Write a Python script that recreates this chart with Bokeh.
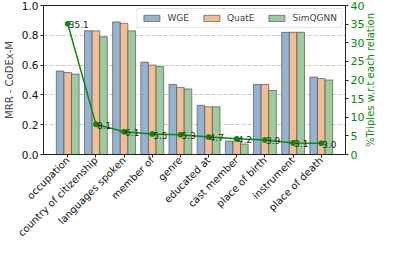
import numpy as np
from bokeh.plotting import figure
from bokeh.models import (Range1d, LinearAxis, FixedTicker, ColumnDataSource,
                          NumeralTickFormatter, Label)
from bokeh.embed import file_html
from bokeh.resources import INLINE
from bokeh.core.properties import value

relations = ["occupation", "country of citizenship", "languages spoken", "member of",
             "genre", "educated at", "cast member", "place of birth", "instrument",
             "place of death"]
wge = [0.56, 0.83, 0.89, 0.62, 0.47, 0.33, 0.09, 0.47, 0.82, 0.52]
quate = [0.55, 0.83, 0.88, 0.60, 0.45, 0.32, 0.09, 0.47, 0.82, 0.51]
simqgnn = [0.54, 0.79, 0.83, 0.59, 0.44, 0.32, 0.07, 0.43, 0.82, 0.50]
pct_triples = [35.1, 8.1, 6.1, 5.5, 5.3, 4.7, 4.2, 3.9, 3.1, 3.0]
left_ticks = [0.0, 0.2, 0.4, 0.6, 0.8, 1.0]
right_ticks = [0, 5, 10, 15, 20, 25, 30, 35, 40]

FONT = "DejaVu Sans"
GREEN = "#078a07"
idx = np.arange(len(relations))
bw = 0.27
X0, X1 = -0.86, 9.86

p = figure(width=378, height=245, x_range=Range1d(X0, X1), y_range=Range1d(0, 1.0),
           output_backend="svg", toolbar_location=None,
           min_border_top=5, min_border_left=0, min_border_right=32, min_border_bottom=0)
p.extra_y_ranges = {"pct": Range1d(0, 40)}

series = [("WGE", wge, "#93b3d0", -bw), ("QuatE", quate, "#f2bd93", 0.0),
          ("SimQGNN", simqgnn, "#9dcb9d", bw)]
for name, vals, col, off in series:
    src = ColumnDataSource(dict(x=idx + off, top=vals))
    p.vbar(x="x", top="top", width=bw, bottom=0, source=src, fill_color=col,
           line_color="#555555", line_alpha=0.7, line_width=1, legend_label=name)

lsrc = ColumnDataSource(dict(x=idx, y=pct_triples, t=["%.1f" % v for v in pct_triples]))
p.line("x", "y", source=lsrc, y_range_name="pct", line_color=GREEN, line_width=1.5)
p.scatter("x", "y", source=lsrc, y_range_name="pct", size=5, fill_color=GREEN,
          line_color=GREEN)
p.text("x", "y", text="t", source=lsrc, y_range_name="pct", text_font=value(FONT),
       text_font_size="9px", text_color="#222222", x_offset=1, y_offset=1,
       text_baseline="alphabetic", text_align="left")

ax = p.xaxis[0]
ax.ticker = FixedTicker(ticks=list(idx))
ax.major_label_overrides = {int(i): r for i, r in zip(idx, relations)}
ax.major_label_orientation = np.pi / 4

ay = p.yaxis[0]
ay.ticker = FixedTicker(ticks=left_ticks)
ay.formatter = NumeralTickFormatter(format="0.0")
ay.axis_label = "MRR - CoDEx-M"

ar = LinearAxis(y_range_name="pct", ticker=FixedTicker(ticks=right_ticks))
p.add_layout(ar, "right")
p.add_layout(Label(x=X1, y=0.5, x_offset=25,
                   text="%Triples w.r.t each relation", angle=np.pi / 2,
                   text_align="center", text_baseline="middle",
                   text_font=FONT, text_font_size="10px", text_color=GREEN), "right")

for a in [ax, ay, ar]:
    a.major_label_text_font = FONT
    a.major_label_text_font_size = "10px"
    a.axis_label_text_font = FONT
    a.axis_label_text_font_size = "10px"
    a.axis_label_text_font_style = "normal"
    a.major_tick_in = 0
    a.major_tick_out = 3
    a.minor_tick_line_color = None
    a.axis_line_color = "#222222"
    a.major_tick_line_color = "#222222"
    a.major_label_standoff = 2
    a.axis_label_standoff = 4
    a.major_label_text_color = "#111111"
ax.major_label_standoff = 1
ay.major_label_text_font_size = "10.5px"
ar.major_label_text_color = GREEN
ar.major_label_text_font_size = "11px"

p.xgrid.visible = False
p.ygrid.ticker = FixedTicker(ticks=[0.2, 0.4, 0.6, 0.8])
p.ygrid.grid_line_color = "#c8c8c8"
p.ygrid.grid_line_dash = "4 2"
p.outline_line_color = "#222222"
p.outline_line_alpha = 1

lg = p.legend[0]
lg.location = "top_right"
lg.orientation = "horizontal"
lg.label_text_font = FONT
lg.label_text_font_size = "9px"
lg.glyph_width = 20
lg.glyph_height = 8
lg.spacing = 12
lg.padding = 4
lg.margin = 3
lg.label_standoff = 6
lg.border_line_color = "#cccccc"
lg.background_fill_alpha = 0.85

open("out.html", "w").write(file_html(p, INLINE))
